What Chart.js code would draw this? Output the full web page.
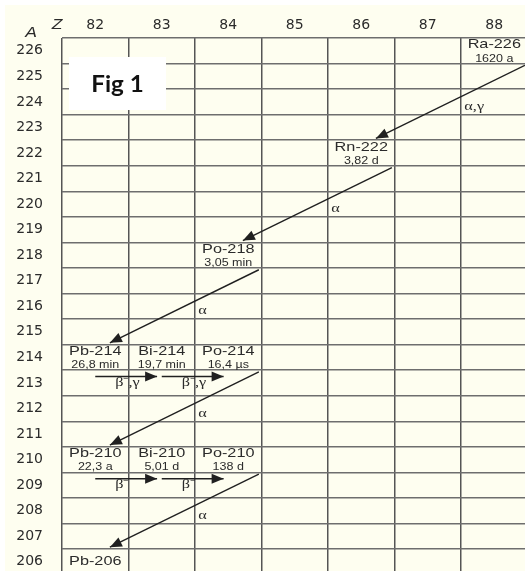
<!DOCTYPE html>
<html>
<head>
<meta charset="utf-8">
<title>Ra-226 decay series</title>
<script src="https://cdn.jsdelivr.net/npm/chart.js@4/dist/chart.umd.min.js"></script>
<style>
  html, body { margin: 0; padding: 0; background: #ffffff; }
  #wrap { width: 525px; height: 571px; position: relative; }
</style>
</head>
<body>
<div id="wrap"><canvas id="chart"></canvas></div>
<script>
// Axis categories: proton number Z (columns) and mass number A (rows)
const protonNumbers = [82, 83, 84, 85, 86, 87, 88];
const massNumbers = [226, 225, 224, 223, 222, 221, 220, 219, 218, 217, 216,
                     215, 214, 213, 212, 211, 210, 209, 208, 207, 206];

// Members of the radium-226 decay series
const nuclides  = ['Ra-226', 'Rn-222', 'Po-218', 'Pb-214', 'Bi-214', 'Po-214', 'Pb-210', 'Bi-210', 'Po-210', 'Pb-206'];
const nuclideZ  = [88, 86, 84, 82, 83, 84, 82, 83, 84, 82];
const nuclideA  = [226, 222, 218, 214, 214, 214, 210, 210, 210, 206];
const halfLives = ['1620 a', '3,82 d', '3,05 min', '26,8 min', '19,7 min', '16,4 \u00b5s', '22,3 a', '5,01 d', '138 d', ''];

// Decay steps: parent -> daughter (indices into nuclides) and emitted radiation
const decayParent   = [0, 1, 2, 3, 4, 5, 6, 7, 8];
const decayDaughter = [1, 2, 3, 4, 5, 6, 7, 8, 9];
const decayModes    = ['\u03b1,\u03b3', '\u03b1', '\u03b1', '\u03b2\u207b,\u03b3', '\u03b2\u207b,\u03b3', '\u03b1', '\u03b2\u207b', '\u03b2\u207b', '\u03b1'];

// ---- styling ----
const CREAM = '#fefef0';
const INK = '#202020';
const TEXT = '#2b2b2b';
const STRETCH = 1.25;

// Where arrows leave / enter a cell, in axis units relative to the cell centre
const ALPHA_START = { dx: 0.46, dy: -0.57 };
const ALPHA_END   = { dx: 0.22, dy: 0.57 };
const BETA_START  = { dx: 0.00, dy: -0.75 };
const BETA_END    = { dx: -0.07, dy: -0.75 };
// Where the radiation label sits relative to the parent cell centre
const ALPHA_LABEL = { dx: -0.45, dy: -2.18 };
const BETA_LABEL  = { dx: 0.30, dy: -0.97 };

const isAlpha = i => decayModes[i].charAt(0) === '\u03b1';

function arrowData(i) {
  const p = decayParent[i], d = decayDaughter[i];
  const s = isAlpha(i) ? ALPHA_START : BETA_START;
  const e = isAlpha(i) ? ALPHA_END : BETA_END;
  return [
    { x: nuclideZ[p] + s.dx, y: nuclideA[p] + s.dy },
    { x: nuclideZ[d] + e.dx, y: nuclideA[d] + e.dy }
  ];
}

const datasets = decayParent.map((_, i) => ({
  label: nuclides[decayParent[i]] + ' \u2192 ' + nuclides[decayDaughter[i]],
  data: arrowData(i),
  showLine: true,
  borderColor: INK,
  borderWidth: 1.4,
  pointRadius: 0,
  pointHoverRadius: 0,
  fill: false
}));

function drawText(ctx, txt, x, y, font, align, sx) {
  ctx.save();
  ctx.font = font;
  ctx.textAlign = align;
  ctx.textBaseline = 'middle';
  ctx.translate(x, y);
  ctx.scale(sx, 1);
  ctx.fillText(txt, 0, 0);
  ctx.restore();
}

// Cream paper behind the whole table
const paperPlugin = {
  id: 'paper',
  beforeDraw(chart) {
    const ctx = chart.ctx;
    ctx.save();
    ctx.fillStyle = CREAM;
    ctx.fillRect(5, 5, chart.width - 5, chart.height - 5);
    ctx.restore();
  }
};

// Arrow heads, nuclide names, half-lives and radiation labels
const decayPlugin = {
  id: 'decay',
  afterDatasetsDraw(chart) {
    const ctx = chart.ctx;
    const xs = chart.scales.x, ys = chart.scales.y;

    // arrow heads at the daughter end of every line
    chart.data.datasets.forEach((ds, i) => {
      const pts = chart.getDatasetMeta(i).data;
      const a = pts[0], b = pts[1];
      const ang = Math.atan2(b.y - a.y, b.x - a.x);
      const len = 12, half = 5;
      ctx.save();
      ctx.fillStyle = INK;
      ctx.translate(b.x, b.y);
      ctx.rotate(ang);
      ctx.beginPath();
      ctx.moveTo(0, 0);
      ctx.lineTo(-len, -half);
      ctx.lineTo(-len, half);
      ctx.closePath();
      ctx.fill();
      ctx.restore();
    });

    ctx.save();
    ctx.fillStyle = TEXT;
    // nuclide names and half-lives
    nuclides.forEach((name, i) => {
      const cx = xs.getPixelForValue(nuclideZ[i]);
      const cy = ys.getPixelForValue(nuclideA[i]);
      if (halfLives[i]) {
        drawText(ctx, name, cx, cy - 6, '13px "Liberation Sans", Arial, sans-serif', 'center', STRETCH);
        drawText(ctx, halfLives[i], cx, cy + 8, '10px "Liberation Sans", Arial, sans-serif', 'center', STRETCH);
      } else {
        drawText(ctx, name, cx, cy, '13px "Liberation Sans", Arial, sans-serif', 'center', STRETCH);
      }
    });
    // radiation emitted in each step
    decayModes.forEach((mode, i) => {
      const p = decayParent[i];
      const off = isAlpha(i) ? ALPHA_LABEL : BETA_LABEL;
      const x = xs.getPixelForValue(nuclideZ[p] + off.dx);
      const y = ys.getPixelForValue(nuclideA[p] + off.dy);
      drawText(ctx, mode, x, y, '13px "Liberation Serif", "Times New Roman", serif', 'left', STRETCH);
    });
    ctx.restore();
  },
  afterDraw(chart) {
    const ctx = chart.ctx;
    const area = chart.chartArea;
    ctx.save();
    // axis symbols
    ctx.fillStyle = TEXT;
    drawText(ctx, 'Z', area.left - 5, area.top - 13, 'italic 14px "Liberation Sans", Arial, sans-serif', 'center', STRETCH);
    drawText(ctx, 'A', area.left - 31, area.top - 5, 'italic 14px "Liberation Sans", Arial, sans-serif', 'center', STRETCH);
    // figure tag
    const bx = area.left + 7, by = area.top + 19, bw = 97, bh = 53;
    ctx.fillStyle = '#ffffff';
    ctx.fillRect(bx, by, bw, bh);
    ctx.fillStyle = '#111111';
    drawText(ctx, 'Fig 1', bx + bw / 2, by + bh / 2 + 1, 'bold 23px Lato, "Open Sans", sans-serif', 'center', 1.05);
    ctx.restore();
  }
};

new Chart(document.getElementById('chart'), {
  type: 'scatter',
  data: { datasets },
  plugins: [paperPlugin, decayPlugin],
  options: {
    responsive: true,
    maintainAspectRatio: false,
    animation: false,
    events: [],
    layout: { padding: 0 },
    plugins: { legend: { display: false }, tooltip: { enabled: false } },
    scales: {
      x: {
        type: 'linear',
        position: 'top',
        min: 81.5,
        max: 88.462,
        afterBuildTicks: s => { s.ticks = protonNumbers.map(v => ({ value: v })); },
        afterFit: s => { s.height = 38; s.paddingLeft = 0; s.paddingRight = 0; },
        ticks: {
          callback: v => String(v),
          color: TEXT,
          padding: 4,
          font: { family: '"DejaVu Sans", sans-serif', size: 14 }
        },
        grid: { offset: true, drawTicks: false, color: '#555555', lineWidth: 1.5 },
        border: { display: false }
      },
      y: {
        type: 'linear',
        position: 'left',
        min: 205.64,
        max: 226.5,
        afterBuildTicks: s => { s.ticks = massNumbers.slice().reverse().map(v => ({ value: v })); },
        afterFit: s => { s.width = 62; s.paddingTop = 0; s.paddingBottom = 0; },
        ticks: {
          callback: v => String(v),
          color: TEXT,
          padding: 19,
          font: { family: '"DejaVu Sans", sans-serif', size: 14 }
        },
        grid: { offset: true, drawTicks: false, color: '#6e6e6e', lineWidth: 1.5 },
        border: { display: false }
      }
    }
  }
});
</script>
</body>
</html>
